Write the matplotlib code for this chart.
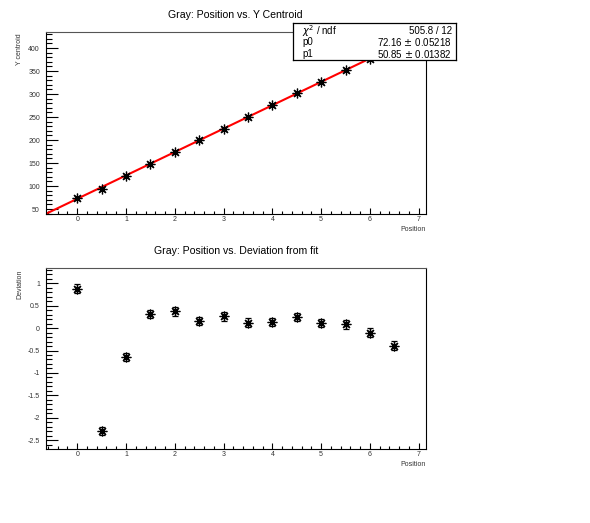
import matplotlib
matplotlib.use('Agg')
import matplotlib.pyplot as plt
import matplotlib.ticker as ticker

plt.rcParams.update({'font.family': ['Liberation Sans', 'DejaVu Sans'], 'font.size': 6})

# data
position = [0.0, 0.5, 1.0, 1.5, 2.0, 2.5, 3.0, 3.5, 4.0, 4.5, 5.0, 5.5, 6.0, 6.5]
y_centroid = [73.05, 93.32, 122.36, 148.75, 174.24, 199.45, 224.98,
              250.23, 275.69, 301.23, 326.52, 351.91, 377.19, 402.31]
deviation = [0.88, -2.29, -0.65, 0.31, 0.37, 0.16, 0.26,
             0.12, 0.14, 0.25, 0.11, 0.08, -0.10, -0.39]
dev_err = [0.095] * 14

p0, p0_err = 72.16, 0.05218
p1, p1_err = 50.85, 0.01382
chi2, ndf = 505.8, 12

XLIM = (-0.65, 7.15)
W, H = 590, 523

fig = plt.figure(figsize=(W / 100, H / 100), dpi=100)

def frac(x0, y0, x1, y1):
    return [x0 / W, 1 - y1 / H, (x1 - x0) / W, (y1 - y0) / H]

star = (8, 2, 0)
TICKCOL = '#333333'

def root_style(ax, ymaj, ymin):
    ax.set_xlim(*XLIM)
    ax.xaxis.set_major_locator(ticker.MultipleLocator(1))
    ax.xaxis.set_minor_locator(ticker.MultipleLocator(0.2))
    ax.yaxis.set_major_locator(ticker.MultipleLocator(ymaj))
    ax.yaxis.set_minor_locator(ticker.MultipleLocator(ymin))
    ax.yaxis.set_major_formatter(ticker.FuncFormatter(lambda v, _: f'{v:g}'))
    ax.tick_params(axis='x', which='major', direction='in', length=4.5, width=0.8,
                   pad=1.5, labelsize=5, labelcolor=TICKCOL, top=False)
    ax.tick_params(axis='x', which='minor', direction='in', length=2.5, width=0.8, top=False)
    ax.tick_params(axis='y', which='major', direction='in', length=8.5, width=0.8,
                   pad=4, labelsize=5, labelcolor=TICKCOL, right=False)
    ax.tick_params(axis='y', which='minor', direction='in', length=4.3, width=0.8, right=False)
    for s in ax.spines.values():
        s.set_linewidth(0.8)
    ax.spines['top'].set_color('#555555')
    ax.set_xlabel('Position', fontsize=5, loc='right', labelpad=2, color=TICKCOL)

# top: position vs. y centroid
ax1 = fig.add_axes(frac(45.5, 32, 426, 213.7))
root_style(ax1, 50, 10)
ax1.set_ylim(39.8, 434.8)
fx = list(XLIM)
ax1.plot(fx, [p0 + p1 * v for v in fx], color='red', lw=1.5, zorder=2)
ax1.plot(position, y_centroid, ls='none', marker=star, ms=7, mec='black', mew=0.9, zorder=3)
ax1.set_ylabel('Y centroid', fontsize=5, loc='top', color=TICKCOL)
ax1.yaxis.set_label_coords(-0.058, 0.99)
ax1.set_title('Gray: Position vs. Y Centroid', fontsize=7.6, pad=10)

# stats box
box = fig.add_axes(frac(293, 23.3, 456, 60))
box.set_xticks([]); box.set_yticks([])
box.set_facecolor('white')
for s in box.spines.values():
    s.set_linewidth(0.9)
rows = [('$\\chi^2$ / ndf', f'{chi2} / {ndf}'),
        ('p0', f'{p0:.2f} $\\pm$ {p0_err}'),
        ('p1', f'{p1:.2f} $\\pm$ {p1_err}')]
for i, (lab, val) in enumerate(rows):
    yy = 0.80 - i * 0.32
    box.text(0.055, yy, lab, ha='left', va='center', fontsize=7, transform=box.transAxes)
    box.text(0.975, yy, val, ha='right', va='center', fontsize=7, transform=box.transAxes)

# bottom: position vs. deviation
ax2 = fig.add_axes(frac(45.5, 268, 426, 448.7))
root_style(ax2, 0.5, 0.1)
ax2.set_ylim(-2.69, 1.34)
ax2.errorbar(position, deviation, yerr=dev_err, ls='none', color='black',
             elinewidth=0.9, capsize=2.5, capthick=0.9,
             marker=star, ms=7, mec='black', mew=0.9)
ax2.set_ylabel('Deviation', fontsize=5, loc='top', color=TICKCOL)
ax2.yaxis.set_label_coords(-0.058, 0.99)
ax2.set_title('Gray: Position vs. Deviation from fit', fontsize=7.6, pad=10)

fig.savefig('out.png', dpi=100)
